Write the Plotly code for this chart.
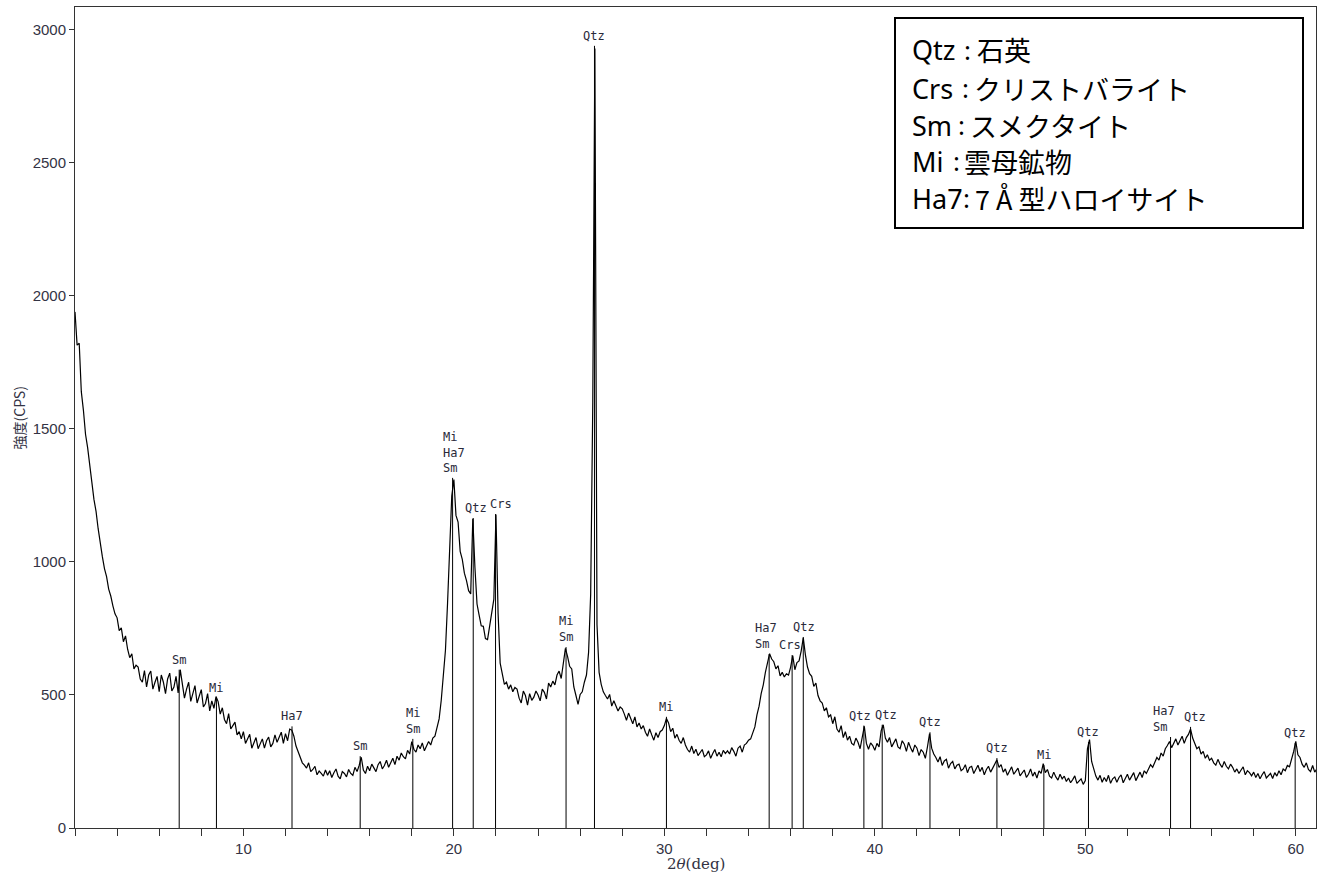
import numpy as np
import plotly.graph_objects as go

# ---------------- data ----------------
# 2-theta grid: 2.0 .. 61.0 deg, 0.1 deg step; intensity rows, one row per degree (x.0 .. x.9)
theta_start = 2.0
theta_step = 0.1
rows = [
    [1940, 1815, 1822, 1640, 1570, 1480, 1430, 1352, 1300, 1235],  # 2
    [1190, 1125, 1062, 1020, 975, 945, 898, 872, 835, 805],        # 3
    [790, 742, 752, 700, 722, 672, 640, 655, 598, 612],            # 4
    [605, 560, 548, 592, 530, 575, 590, 522, 548, 570],            # 5
    [512, 575, 548, 505, 560, 582, 515, 530, 570, 508],            # 6
    [595, 540, 488, 522, 548, 476, 505, 535, 470, 500],            # 7
    [520, 455, 468, 505, 440, 478, 450, 494, 475, 428],            # 8
    [452, 408, 392, 430, 372, 385, 398, 350, 362, 335],            # 9
    [362, 318, 338, 352, 300, 322, 340, 298, 315, 335],            # 10
    [300, 328, 342, 305, 318, 350, 322, 338, 360, 318],            # 11
    [355, 328, 372, 368, 345, 308, 285, 262, 245, 236],            # 12
    [225, 245, 212, 220, 232, 200, 214, 205, 195, 218],            # 13
    [198, 215, 190, 208, 222, 195, 185, 212, 205, 192],            # 14
    [220, 205, 198, 228, 212, 235, 266, 218, 205, 232],            # 15
    [215, 240, 228, 212, 238, 250, 222, 235, 255, 228],            # 16
    [245, 262, 238, 270, 255, 282, 268, 260, 292, 278],            # 17
    [325, 296, 285, 312, 298, 320, 290, 305, 325, 312],            # 18
    [338, 345, 378, 410, 480, 560, 668, 845, 1078, 1248],          # 19
    [1310, 1175, 1150, 1040, 1010, 958, 930, 892, 880, 1162],      # 20
    [980, 842, 800, 760, 758, 712, 708, 758, 810, 860],            # 21
    [1178, 808, 620, 572, 540, 548, 522, 538, 512, 528],           # 22
    [522, 488, 470, 515, 498, 462, 505, 480, 492, 515],            # 23
    [500, 478, 522, 510, 485, 545, 530, 552, 538, 575],            # 24
    [590, 562, 628, 675, 645, 608, 598, 530, 498, 465],            # 25
    [502, 512, 548, 575, 660, 880, 1600, 2930, 765, 585],          # 26
    [540, 512, 498, 485, 502, 458, 478, 462, 440, 455],            # 27
    [448, 428, 405, 432, 410, 392, 418, 380, 395, 372],            # 28
    [385, 360, 345, 372, 350, 330, 358, 340, 362, 368],            # 29
    [385, 412, 395, 362, 375, 338, 352, 330, 318, 340],            # 30
    [312, 295, 285, 308, 280, 296, 272, 285, 295, 268],            # 31
    [275, 290, 262, 280, 295, 270, 285, 268, 292, 280],            # 32
    [290, 278, 302, 288, 270, 300, 308, 285, 312, 318],            # 33
    [330, 335, 355, 380, 425, 458, 505, 538, 585, 618],            # 34
    [655, 635, 625, 598, 610, 572, 585, 568, 580, 575],            # 35
    [605, 648, 595, 622, 628, 665, 715, 652, 605, 580],            # 36
    [570, 532, 545, 498, 478, 470, 440, 452, 418, 425],            # 37
    [392, 418, 372, 360, 385, 340, 362, 330, 345, 318],            # 38
    [312, 338, 322, 298, 335, 382, 318, 296, 320, 310],            # 39
    [292, 318, 305, 365, 388, 338, 322, 340, 305, 318],            # 40
    [335, 305, 298, 328, 315, 288, 322, 302, 285, 312],            # 41
    [300, 272, 295, 285, 262, 305, 355, 300, 278, 265],            # 42
    [248, 268, 235, 252, 258, 225, 242, 250, 222, 236],            # 43
    [240, 215, 222, 238, 208, 228, 232, 205, 220, 236],            # 44
    [212, 228, 200, 220, 232, 210, 225, 240, 256, 228],            # 45
    [238, 210, 222, 198, 215, 230, 202, 212, 225, 196],            # 46
    [205, 218, 190, 202, 222, 195, 210, 188, 215, 205],            # 47
    [242, 208, 220, 195, 188, 210, 192, 180, 202, 185],            # 48
    [195, 175, 188, 170, 182, 196, 168, 178, 185, 164],            # 49
    [178, 298, 332, 250, 218, 195, 180, 198, 172, 190],            # 50
    [175, 198, 168, 185, 192, 172, 190, 200, 170, 185],            # 51
    [202, 180, 195, 208, 178, 192, 210, 190, 215, 205],            # 52
    [220, 238, 228, 250, 265, 255, 282, 270, 298, 310],            # 53
    [325, 302, 318, 335, 312, 330, 345, 318, 340, 352],            # 54
    [372, 338, 315, 298, 305, 278, 288, 262, 275, 255],            # 55
    [262, 245, 236, 258, 240, 228, 250, 232, 222, 240],            # 56
    [228, 210, 222, 205, 218, 230, 200, 215, 208, 196],            # 57
    [210, 190, 205, 185, 200, 212, 188, 195, 205, 186],            # 58
    [208, 195, 215, 200, 222, 215, 235, 230, 258, 288],            # 59
    [326, 275, 265, 240, 228, 245, 220, 212, 235, 210],            # 60
    [222],                                                         # 61.0
]

# peak identification markers
peak_pos = [6.95, 8.72, 12.31, 15.55, 18.05, 19.94, 20.92, 21.98, 25.33, 26.68,
            30.10, 34.98, 36.07, 36.60, 39.48, 40.35, 42.62, 45.80, 48.03, 50.15,
            54.05, 55.00, 59.97]
peak_top = [595, 490, 382, 270, 335, 1316, 1165, 1180, 680, 2940,
            418, 654, 650, 718, 385, 388, 360, 263, 237, 323,
            342, 380, 320]
peak_label = ["Sm", "Mi", "Ha7", "Sm", "Mi<br>Sm", "Mi<br>Ha7<br>Sm", "Qtz", "Crs", "Mi<br>Sm", "Qtz",
              "Mi", "Ha7<br>Sm", "Crs", "Qtz", "Qtz", "Qtz", "Qtz", "Qtz", "Mi", "Qtz",
              "Ha7<br>Sm", "Qtz", "Qtz"]
label_dx = [0, 0, 0, 0, 0, 1, 3, 5, 0, 0,
            0, -3, -2, 1, -4, 4, 0, 0, 0, 0,
            -7, 4, 0]

legend_keys = ["Qtz", "Crs", "Sm", "Mi", "Ha7"]
legend_names = ["石英", "クリストバライト", "スメクタイト", "雲母鉱物", "7 Å 型ハロイサイト"]

x_ticks = list(range(2, 62, 2))
x_ticktext = [str(v) if v % 10 == 0 else "" for v in x_ticks]
y_ticks = [0, 500, 1000, 1500, 2000, 2500, 3000]

# ---------------- build ----------------
for i, r in enumerate(rows[:-1]):
    if len(r) != 10:
        raise ValueError(f"row for {i + 2} deg has {len(r)} values")
intensity = [v for r in rows for v in r]
two_theta = np.round(theta_start + theta_step * np.arange(len(intensity)), 2)

# plot area in pixels (within 1317x877 page)
W, H = 1317, 877
L, R, T, B = 75, 1316, 7, 828


def px_x(p):
    return (p - L) / (R - L)


def px_y(p):
    return (B - p) / (B - T)


fig = go.Figure()

# marker lines
lx, ly = [], []
for p, t in zip(peak_pos, peak_top):
    lx += [p, p, None]
    ly += [0, t, None]
fig.add_trace(go.Scatter(x=lx, y=ly, mode="lines", line=dict(color="black", width=1),
                         hoverinfo="skip", showlegend=False))

fig.add_trace(go.Scatter(x=two_theta, y=intensity, mode="lines",
                         line=dict(color="black", width=1.2), showlegend=False))

annotations = []
for p, t, lab, dx in zip(peak_pos, peak_top, peak_label, label_dx):
    annotations.append(dict(x=p, y=t, xref="x", yref="y", text=lab, showarrow=False,
                            yanchor="bottom", xanchor="center", yshift=1, xshift=dx, align="left",
                            font=dict(family="DejaVu Sans Mono", size=12, color="#2a2a3a")))

legend_y = [50, 88, 125, 161, 198]
colon_x = [967, 965, 961, 957, 966]
name_x = [975, 972, 968, 962, 973]
for key, name, yy, cx, nx in zip(legend_keys, legend_names, legend_y, colon_x, name_x):
    annotations.append(dict(x=px_x(910), y=px_y(yy), xref="paper", yref="paper", text=key,
                            showarrow=False, xanchor="left", yanchor="middle",
                            font=dict(family="Noto Sans", size=27, color="black")))
    annotations.append(dict(x=px_x(cx), y=px_y(yy), xref="paper", yref="paper", text=":",
                            showarrow=False, xanchor="center", yanchor="middle",
                            font=dict(family="Noto Sans", size=26, color="black")))
    annotations.append(dict(x=px_x(nx), y=px_y(yy), xref="paper", yref="paper", text=name,
                            showarrow=False, xanchor="left", yanchor="middle",
                            font=dict(family="Noto Sans CJK JP", size=27, color="black")))

annotations.append(dict(x=px_x(18), y=0.5, xref="paper", yref="paper", text="強度(CPS)",
                        textangle=-90, showarrow=False, xanchor="center", yanchor="middle",
                        font=dict(family="Noto Sans CJK JP", size=14, color="#333344")))
annotations.append(dict(x=0.5, y=px_y(864), xref="paper", yref="paper",
                        text="2<i>θ</i>(deg)", showarrow=False, xanchor="center", yanchor="middle",
                        font=dict(family="DejaVu Serif", size=15, color="#333344")))

fig.update_layout(
    width=W, height=H,
    margin=dict(l=L, r=W - R, t=T, b=H - B, autoexpand=False),
    paper_bgcolor="white", plot_bgcolor="white",
    annotations=annotations,
    shapes=[dict(type="rect", xref="paper", yref="paper",
                 x0=px_x(895), x1=px_x(1303), y0=px_y(228), y1=px_y(18),
                 line=dict(color="black", width=2), fillcolor="white", layer="above")],
    showlegend=False,
)
fig.update_xaxes(range=[2.0, 60.96], tickvals=x_ticks, ticktext=x_ticktext,
                 ticks="outside", ticklen=7, tickcolor="#333", showgrid=False, zeroline=False,
                 showline=True, linecolor="#333", linewidth=1, mirror=True,
                 tickfont=dict(family="Liberation Sans", size=15, color="#333344"))
fig.update_yaxes(range=[0, 3086], tickvals=y_ticks, ticks="outside", ticklen=5, tickcolor="#333",
                 showgrid=False, zeroline=False, showline=True, linecolor="#333", linewidth=1,
                 mirror=True, tickfont=dict(family="Liberation Sans", size=15, color="#333344"))

fig.write_html("out.html", config={"displayModeBar": False},
               post_script="document.body.style.margin='0';document.body.style.padding='0';"
                           "document.body.style.overflow='hidden';")
